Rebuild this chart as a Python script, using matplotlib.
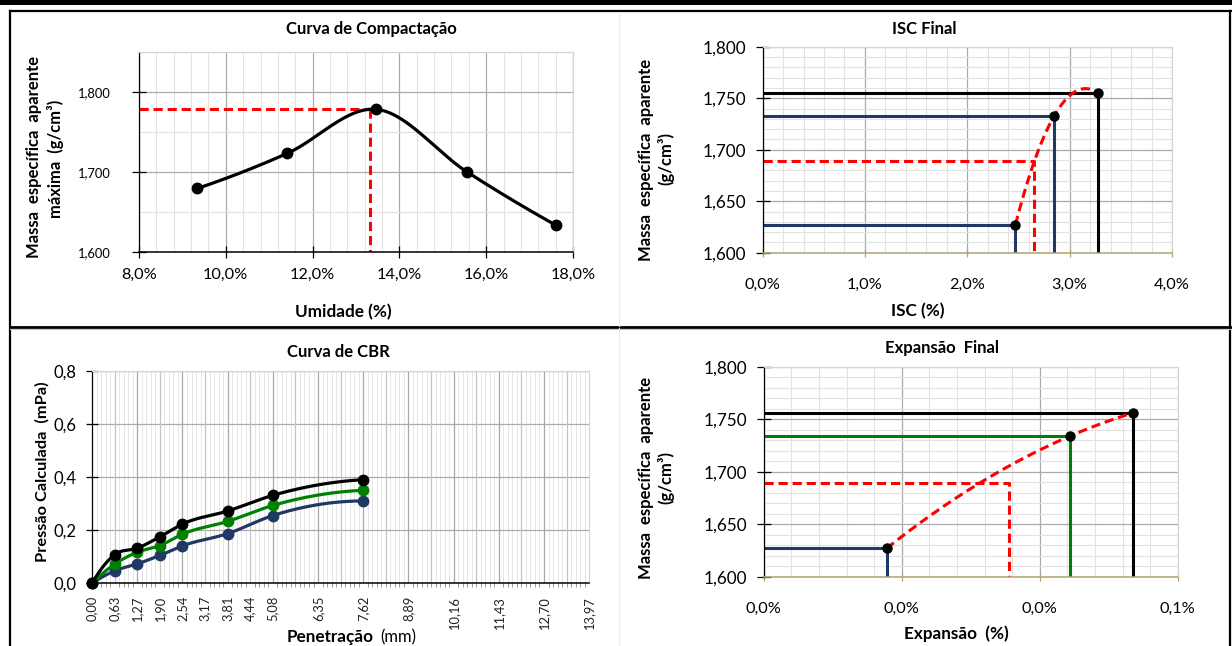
import numpy as np
import matplotlib
matplotlib.use('Agg')
import matplotlib.pyplot as plt
from matplotlib.ticker import MultipleLocator, FuncFormatter, FixedLocator
from matplotlib.lines import Line2D
from matplotlib.patches import Rectangle

plt.rcParams['font.family'] = ['Lato', 'DejaVu Sans']

# ---------------- data ----------------
umidade = [9.34, 11.42, 13.46, 15.55, 17.61]
massa_compactacao = [1.679, 1.723, 1.778, 1.700, 1.633]
umidade_otima = 13.32
massa_maxima = 1.778

isc = [2.47, 2.85, 3.28]
massa_isc = [1.627, 1.733, 1.755]
isc_final = 2.65
massa_isc_final = 1.689

penetracao = [0.00, 0.635, 1.27, 1.905, 2.54, 3.81, 5.08, 7.62]
pressao_preto = [0.0, 0.108, 0.132, 0.175, 0.223, 0.272, 0.331, 0.390]
pressao_verde = [0.0, 0.072, 0.117, 0.142, 0.185, 0.233, 0.293, 0.350]
pressao_azul = [0.0, 0.047, 0.073, 0.105, 0.141, 0.187, 0.255, 0.310]
penetracao_ticks = [0.0, 0.635, 1.27, 1.905, 2.54, 3.175, 3.81, 4.445, 5.08,
                    6.35, 7.62, 8.89, 10.16, 11.43, 12.70, 13.97]
penetracao_labels = ['0,00', '0,63', '1,27', '1,90', '2,54', '3,17', '3,81', '4,44',
                     '5,08', '6,35', '7,62', '8,89', '10,16', '11,43', '12,70', '13,97']

expansao = [0.0178, 0.0444, 0.0535]
massa_expansao = [1.627, 1.734, 1.756]
expansao_final = 0.0356
massa_expansao_final = 1.6895

# ---------------- helpers ----------------
W, H = 1232, 646
fig = plt.figure(figsize=(W / 100, H / 100), dpi=100)

BLACK = '#000000'
NAVY = '#1F3864'
GREEN = '#008000'
RED = '#FF0000'
TAN = '#B0A470'
GMAJ = '#ABABAB'
GMIN = '#E2E2E2'

TITLE_FS = 12
LABEL_FS = 12.3
YLAB_FS = 12


def fx(x):
    return x / W


def fy(y):
    return 1 - y / H


def add_ax(l, t, r, b):
    return fig.add_axes([l / W, 1 - b / H, (r - l) / W, (b - t) / H])


def smooth(x, y, n=80):
    x = np.asarray(x, float)
    y = np.asarray(y, float)
    k = len(x)

    def pd(i0, i1, i2, at):
        xa, xb, xc = x[i0], x[i1], x[i2]
        s1 = (y[i1] - y[i0]) / (xb - xa)
        s2 = (y[i2] - y[i1]) / (xc - xb)
        c = (s2 - s1) / (xc - xa)
        return s1 + c * ((x[at] - xa) + (x[at] - xb))

    m = np.zeros(k)
    for i in range(k):
        if i == 0:
            m[i] = pd(0, 1, 2, 0)
        elif i == k - 1:
            m[i] = pd(k - 3, k - 2, k - 1, k - 1)
        else:
            m[i] = pd(i - 1, i, i + 1, i)
    xs, ys = [], []
    t = np.linspace(0, 1, n)
    h00 = 2 * t**3 - 3 * t**2 + 1
    h10 = t**3 - 2 * t**2 + t
    h01 = -2 * t**3 + 3 * t**2
    h11 = t**3 - t**2
    for i in range(k - 1):
        h = x[i + 1] - x[i]
        xs.append(x[i] + t * h)
        ys.append(h00 * y[i] + h10 * h * m[i] + h01 * y[i + 1] + h11 * h * m[i + 1])
    return np.concatenate(xs), np.concatenate(ys)


def pct(dec):
    return FuncFormatter(lambda v, p: (f"{v:.{dec}f}%").replace('.', ','))


def num(dec):
    return FuncFormatter(lambda v, p: (f"{v:.{dec}f}").replace('.', ','))


def style_axes(ax, bottom_color=BLACK):
    ax.set_axisbelow(True)
    for s in ('top', 'right'):
        ax.spines[s].set_color('#D4D4D4')
        ax.spines[s].set_linewidth(0.8)
    ax.spines['left'].set_color(BLACK)
    ax.spines['left'].set_linewidth(0.9)
    ax.spines['bottom'].set_color(bottom_color)
    ax.spines['bottom'].set_linewidth(1.1)
    ax.tick_params(which='minor', length=0)


# ---------------- frame ----------------
fig.add_artist(Rectangle((0, fy(4.5)), 1, 4.5 / H, transform=fig.transFigure,
                         color='black', lw=0))
for (x0, y0, x1, y1, c, lw) in [
        (10, 11, W, 11, 'black', 1.6),
        (10, 11, 10, H, 'black', 1.6),
        (1229.5, 11, 1229.5, H, 'black', 1.6),
        (10, 327, W, 327, 'black', 2.0),
        (619, 12, 619, 326, '#EDEDED', 0.8),
        (619, 328, 619, H, '#EDEDED', 0.8)]:
    fig.add_artist(Line2D([fx(x0), fx(x1)], [fy(y0), fy(y1)], transform=fig.transFigure,
                          color=c, lw=lw))
fig.add_artist(Line2D([fx(10), fx(W)], [fy(328.6), fy(328.6)], transform=fig.transFigure,
                      color='#C8C8C8', lw=0.8))

# ---------------- Curva de Compactação ----------------
ax1 = add_ax(139, 51.7, 573, 251.7)
style_axes(ax1)
ax1.set_xlim(8, 18)
ax1.set_ylim(1.6, 1.85)
ax1.xaxis.set_major_locator(MultipleLocator(2))
ax1.xaxis.set_minor_locator(MultipleLocator(0.4))
ax1.yaxis.set_major_locator(MultipleLocator(0.1))
ax1.yaxis.set_minor_locator(MultipleLocator(0.05))
ax1.xaxis.set_major_formatter(pct(1))
ax1.yaxis.set_major_formatter(num(3))
ax1.grid(which='major', color=GMAJ, lw=0.9)
ax1.grid(which='minor', color=GMIN, lw=0.8)
ax1.tick_params(axis='x', which='major', direction='inout', length=8, width=0.9,
                labelsize=11.7, pad=8)
ax1.tick_params(axis='y', which='major', direction='inout', length=10, width=0.9,
                labelsize=9.3, pad=15)
sx, sy = smooth(umidade, massa_compactacao)
ax1.plot(sx, sy, color=BLACK, lw=2.3, zorder=3, solid_capstyle='round')
ax1.plot(umidade, massa_compactacao, 'o', color=BLACK, ms=7.5, zorder=4)
ax1.plot([8, umidade_otima], [massa_maxima, massa_maxima], color=RED, lw=2.2,
         dashes=(3, 1.6), zorder=2.5)
ax1.plot([umidade_otima, umidade_otima], [massa_maxima, 1.6], color=RED, lw=2.2,
         dashes=(3, 1.6), zorder=2.5)

fig.text(fx(371), fy(29), 'Curva de Compactação', ha='center', va='center',
         fontsize=TITLE_FS, fontweight='bold')
fig.text(fx(343), fy(312), 'Umidade (%)', ha='center', va='center',
         fontsize=LABEL_FS, fontweight='bold')
fig.text(fx(34), fy(157), 'Massa  específica  aparente', rotation=90, ha='center',
         va='center', fontsize=YLAB_FS, fontweight='bold')
fig.text(fx(56), fy(159), 'máxima  (g/cm³)', rotation=90, ha='center',
         va='center', fontsize=YLAB_FS, fontweight='bold')

# ---------------- ISC Final ----------------
ax2 = add_ax(762.6, 46.7, 1172, 252.7)
style_axes(ax2, bottom_color=TAN)
ax2.set_xlim(0, 4)
ax2.set_ylim(1.6, 1.8)
ax2.xaxis.set_major_locator(MultipleLocator(1))
ax2.xaxis.set_minor_locator(MultipleLocator(0.2))
ax2.yaxis.set_major_locator(MultipleLocator(0.05))
ax2.yaxis.set_minor_locator(MultipleLocator(0.01))
ax2.xaxis.set_major_formatter(pct(1))
ax2.yaxis.set_major_formatter(num(3))
ax2.grid(which='major', color=GMAJ, lw=0.9)
ax2.grid(which='minor', color=GMIN, lw=0.8)
ax2.tick_params(axis='x', which='major', direction='inout', length=6, width=0.9,
                color=TAN, labelsize=11.7, pad=15)
ax2.tick_params(axis='y', which='major', direction='inout', length=10, width=0.9,
                labelsize=12.3, pad=7)
line_cols = [NAVY, NAVY, BLACK]
for xv, yv, c in zip(isc, massa_isc, line_cols):
    ax2.plot([0, xv, xv], [yv, yv, 1.6], color=c, lw=2.2, zorder=2.4)
ax2.plot([0, isc_final, isc_final], [massa_isc_final, massa_isc_final, 1.6], color=RED,
         lw=2.2, dashes=(3, 1.6), zorder=2.5)
sx, sy = smooth(isc, massa_isc)
ax2.plot(sx, sy, color=RED, lw=2.2, dashes=(3, 1.6), zorder=2.6)
ax2.plot(isc, massa_isc, 'o', color=BLACK, ms=6.5, zorder=4)

fig.text(fx(924), fy(29), 'ISC Final', ha='center', va='center',
         fontsize=TITLE_FS, fontweight='bold')
fig.text(fx(918), fy(311), 'ISC (%)', ha='center', va='center',
         fontsize=LABEL_FS, fontweight='bold')
fig.text(fx(646), fy(160), 'Massa  específica  aparente', rotation=90, ha='center',
         va='center', fontsize=YLAB_FS, fontweight='bold')
fig.text(fx(666), fy(159), '(g/cm³)', rotation=90, ha='center',
         va='center', fontsize=YLAB_FS, fontweight='bold')

# ---------------- Curva de CBR ----------------
ax3 = add_ax(92.1, 370.7, 589.2, 583.3)
style_axes(ax3)
ax3.set_xlim(0, 13.97)
ax3.set_ylim(0, 0.8)
ax3.yaxis.set_major_locator(MultipleLocator(0.2))
ax3.yaxis.set_major_formatter(num(1))
ax3.xaxis.set_major_locator(FixedLocator(penetracao_ticks))
ax3.set_xticklabels(penetracao_labels, rotation=90)
ax3.xaxis.set_minor_locator(MultipleLocator(0.127))
ax3.grid(axis='y', which='major', color=GMAJ, lw=0.9)
ax3.grid(axis='x', which='minor', color='#E6E6E6', lw=0.7)
for k in range(1, 22):
    ax3.axvline(k * 0.635, color=('#A8A8A8' if k % 2 == 0 else '#C4C4C4'), lw=0.9,
                zorder=0.6)
ax3.tick_params(axis='x', which='major', length=0, labelsize=9.3, pad=9,
                labelcolor='#222222')
ax3.tick_params(axis='x', which='minor', length=3, width=0.6, color='#888888',
                direction='out')
ax3.tick_params(axis='y', which='major', direction='inout', length=8, width=0.9,
                labelsize=12, pad=7)
for yv, c in ((pressao_azul, NAVY), (pressao_verde, GREEN), (pressao_preto, BLACK)):
    sx, sy = smooth(penetracao, yv)
    ax3.plot(sx, sy, color=c, lw=2.3, zorder=3)
    ax3.plot(penetracao, yv, 'o', color=c, ms=7.5, zorder=4, clip_on=False)

fig.text(fx(338), fy(352), 'Curva de CBR', ha='center', va='center',
         fontsize=TITLE_FS, fontweight='bold')
fig.text(fx(374), fy(637), 'Penetração', ha='right', va='center',
         fontsize=LABEL_FS, fontweight='bold')
fig.text(fx(380), fy(637), '(mm)', ha='left', va='center', fontsize=12)
fig.text(fx(42.5), fy(472), 'Pressão Calculada  (mPa)', rotation=90, ha='center',
         va='center', fontsize=11.8, fontweight='bold')

# ---------------- Expansão Final ----------------
ax4 = add_ax(763.8, 366.7, 1177.8, 576.7)
style_axes(ax4, bottom_color=TAN)
ax4.set_xlim(0, 0.06)
ax4.set_ylim(1.6, 1.8)
ax4.xaxis.set_major_locator(MultipleLocator(0.02))
ax4.xaxis.set_minor_locator(MultipleLocator(0.004))
ax4.yaxis.set_major_locator(MultipleLocator(0.05))
ax4.yaxis.set_minor_locator(MultipleLocator(0.01))
ax4.xaxis.set_major_formatter(pct(1))
ax4.yaxis.set_major_formatter(num(3))
ax4.grid(which='major', color=GMAJ, lw=0.9)
ax4.grid(which='minor', color=GMIN, lw=0.8)
ax4.tick_params(axis='x', which='major', direction='inout', length=6, width=0.9,
                color=TAN, labelsize=11.7, pad=15)
ax4.tick_params(axis='y', which='major', direction='inout', length=10, width=0.9,
                labelsize=12.3, pad=7)
line_cols = [NAVY, GREEN, BLACK]
for xv, yv, c in zip(expansao, massa_expansao, line_cols):
    ax4.plot([0, xv, xv], [yv, yv, 1.6], color=c, lw=2.2, zorder=2.4)
ax4.plot([0, expansao_final, expansao_final],
         [massa_expansao_final, massa_expansao_final, 1.6], color=RED,
         lw=2.2, dashes=(3, 1.6), zorder=2.5)
sx, sy = smooth(expansao, massa_expansao)
ax4.plot(sx, sy, color=RED, lw=2.2, dashes=(3, 1.6), zorder=2.6)
ax4.plot(expansao, massa_expansao, 'o', color=BLACK, ms=6.5, zorder=4)

fig.text(fx(942), fy(348), 'Expansão  Final', ha='center', va='center',
         fontsize=TITLE_FS, fontweight='bold')
fig.text(fx(956), fy(634), 'Expansão  (%)', ha='center', va='center',
         fontsize=LABEL_FS, fontweight='bold')
fig.text(fx(646), fy(478), 'Massa  específica  aparente', rotation=90, ha='center',
         va='center', fontsize=YLAB_FS, fontweight='bold')
fig.text(fx(666), fy(478), '(g/cm³)', rotation=90, ha='center',
         va='center', fontsize=YLAB_FS, fontweight='bold')

fig.savefig('out.png', dpi=100)
